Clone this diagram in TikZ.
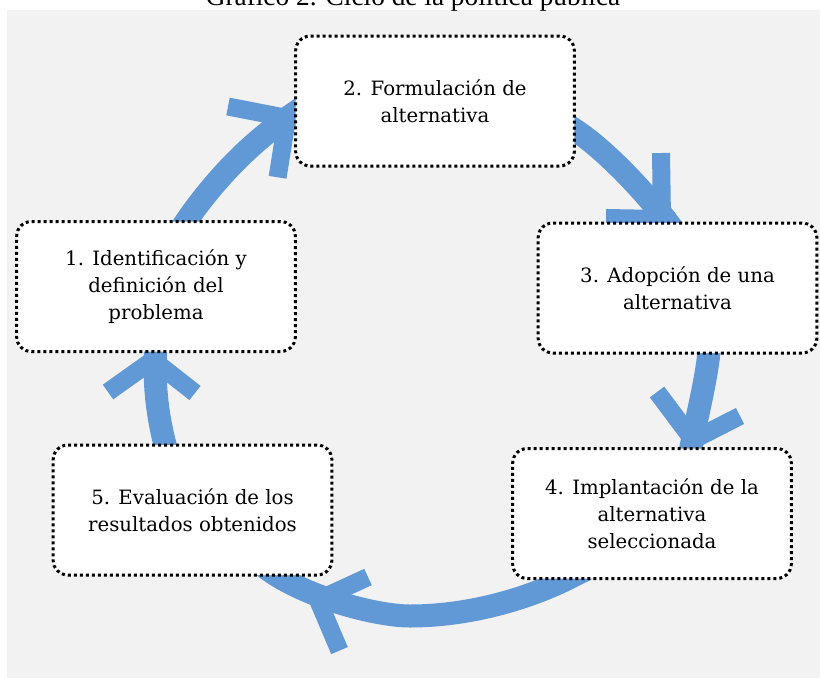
\documentclass[tikz,border=0pt]{standalone}
\usepackage{fontspec}
\setmainfont{DejaVu Serif}
\newfontfamily\titlefont{Liberation Serif}
\usetikzlibrary{calc}
\definecolor{arcblue}{RGB}{97,152,214}
\definecolor{bggray}{RGB}{242,242,242}
\pgfdeclarelayer{bglayer}
\pgfdeclarelayer{arclayer}
\pgfsetlayers{bglayer,arclayer,main}
\begin{document}
\begin{tikzpicture}[x=0.75pt,y=-0.75pt,
  stagebox/.style={draw=black, line width=2.25pt, dash pattern=on 2.25pt off 2.25pt,
    fill=white, rounded corners=11pt, minimum width=209pt, minimum height=97.5pt,
    align=center, inner sep=0pt, font=\fontsize{14.8}{20.25}\selectfont},
  shaft/.style={draw=arcblue, line width=17.25pt, line join=round},
  head/.style={draw=arcblue, line width=13.5pt, line join=miter, line cap=butt}]
\useasboundingbox (0,0) rectangle (820,678);
\begin{pgfonlayer}{bglayer}
\fill[bggray] (7,9.5) rectangle (820,678);
\end{pgfonlayer}
\node[anchor=base, inner sep=0pt, font=\titlefont\fontsize{20.5}{24}\selectfont] (title) at (413,6) {Gráfico 2. Ciclo de la política pública};
\node[stagebox] (n1) at (156,286.5) {1. Identificación y\\definición del\\problema};
\node[stagebox] (n2) at (435,101) {2. Formulación de\\alternativa};
\node[stagebox] (n3) at (677.5,288) {3. Adopción de una\\alternativa};
\node[stagebox] (n4) at (652,513.5) {4. Implantación de la\\alternativa\\seleccionada};
\node[stagebox] (n5) at (192.5,510) {5. Evaluación de los\\resultados obtenidos};
\begin{pgfonlayer}{arclayer}
\draw[shaft] (n1.center) -- (181,229) -- (187,220) .. controls (216,178.4) and (249.3,144.4) .. (287,118) -- (303,107) -- (n2.center);
\draw[shaft] (n2.center) -- (562,121.5) -- (575,130) .. controls (608.6,151.8) and (658.8,206) .. (680,240) -- (n3.center);
\draw[shaft] (n3.center) -- (710,340) .. controls (708,375) and (698,410) .. (688,462) -- (n4.center);
\draw[shaft] (n4.center) -- (585,570) -- (567,579) .. controls (522,601) and (465,616) .. (410,616) .. controls (375,616) and (300,596) .. (262,565) -- (n5.center);
\draw[shaft] (n5.center) -- (167,452) .. controls (158,420) and (153,385) .. (156,345) -- (n1.center);
\draw[head] (228,106.5) -- (287,118) -- (277.6,177.3);
\draw[head] (606,218) -- (662,219) -- (661,153);
\draw[head] (657,392) -- (693,440) -- (740,416);
\draw[head] (368,577) -- (318,600) -- (339.5,650.6);
\draw[head] (108,392) -- (153,360) -- (195,393);
\end{pgfonlayer}
\end{tikzpicture}
\end{document}
